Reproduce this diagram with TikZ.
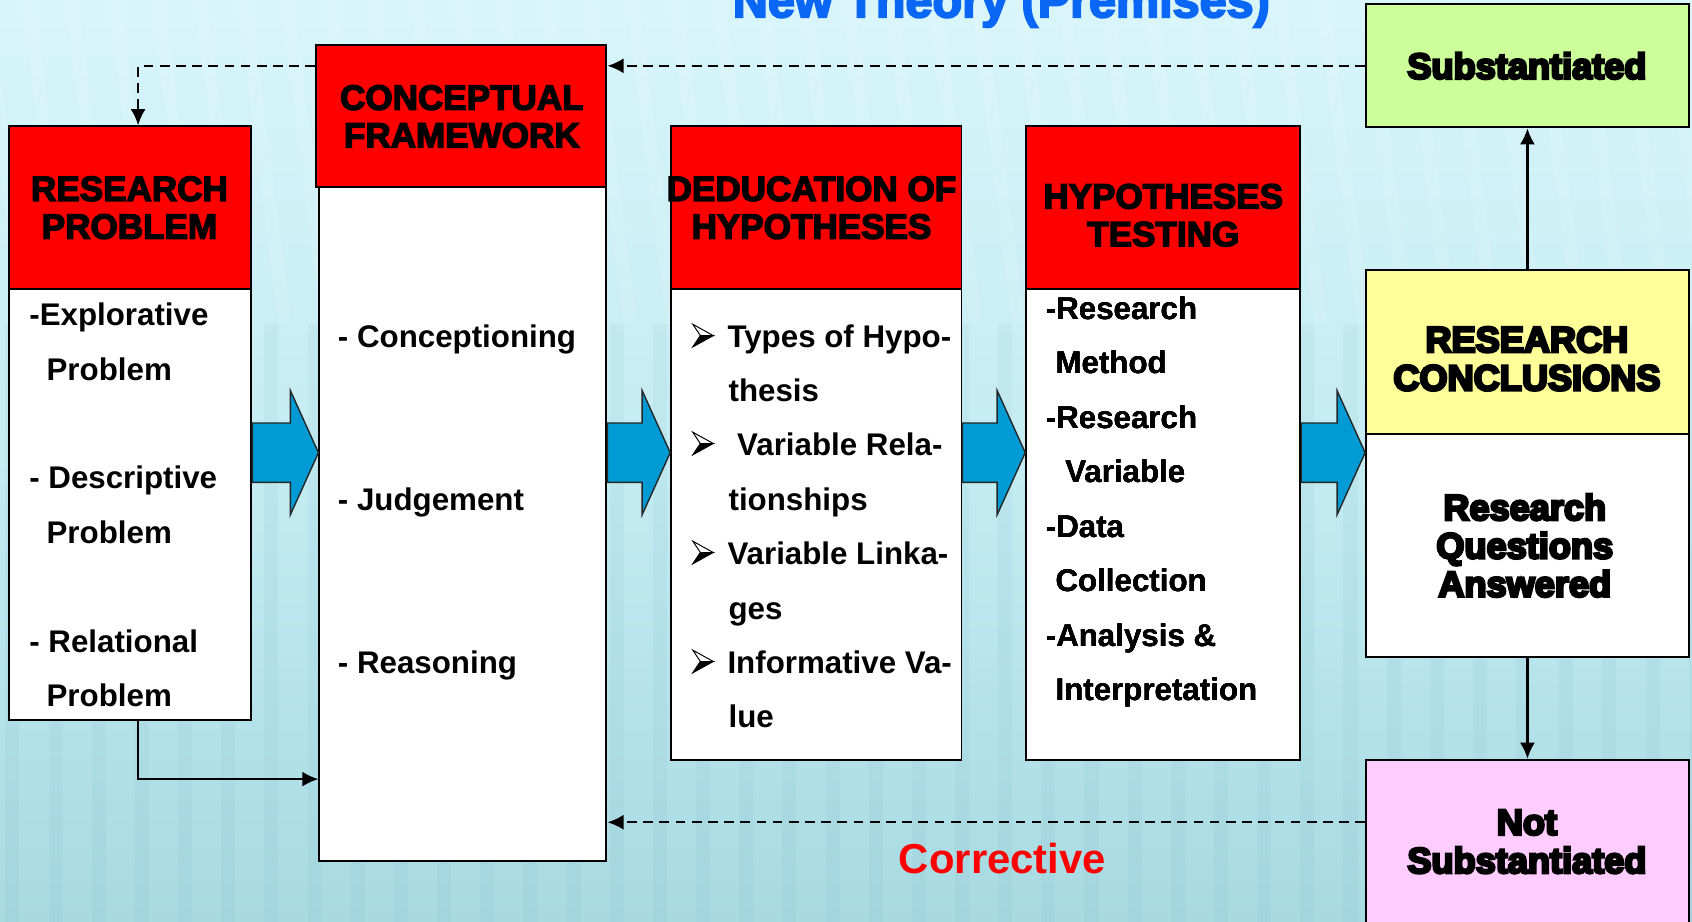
\documentclass[tikz,border=0pt]{standalone}
\usepackage{fontspec}
\setmainfont{Liberation Sans}
\newfontfamily\hvyA{Liberation Sans Bold}[FakeBold=4]
\newfontfamily\hvyB{Liberation Sans Bold}[FakeBold=7]
\usetikzlibrary{arrows.meta,fit,calc}
\definecolor{hred}{RGB}{255,0,0}
\definecolor{sgreen}{RGB}{204,255,153}
\definecolor{cyellow}{RGB}{255,255,153}
\definecolor{npink}{RGB}{255,204,255}
\definecolor{arrowblue}{RGB}{0,154,213}
\definecolor{titleblue}{RGB}{10,102,245}
\definecolor{bgtop}{RGB}{216,245,250}
\definecolor{bgmid}{RGB}{196,236,242}
\definecolor{bgbot}{RGB}{168,218,226}
\tikzset{
  box/.style={draw=black, line width=1.8pt, inner sep=0pt},
  hdr/.style={box, fill=hred},
  bodybox/.style={box, fill=white},
  htxt/.style={font=\hvyA\fontsize{32.5}{35}\selectfont, align=center, inner sep=0pt},
  ctxt/.style={font=\hvyB\fontsize{33.5}{35.5}\selectfont, align=center, inner sep=0pt},
  btxt/.style={font=\bfseries\fontsize{29}{35}\selectfont, anchor=base west, inner sep=0pt},
  dashline/.style={line width=2.1pt, dash pattern=on 9pt off 6pt, -{Latex[length=15pt,width=14pt]}},
  solidline/.style={line width=2.1pt, -{Latex[length=15pt,width=14pt]}},
  barrow/.style={fill=arrowblue, draw=black!85, line width=1.3pt, line join=miter},
  bulletline/.style={draw=black, line width=0.9pt, line join=miter},
}
\newcommand\myblockarrow[2]{%
  \path (#1.east |- 0,419.5) coordinate (ba-s) (#2.west |- 0,419.5) coordinate (ba-t);
  \draw[barrow] ([yshift=27.5pt]ba-s) -- ([xshift=-26pt,yshift=27.5pt]ba-t)
    -- ([xshift=-26pt,yshift=57.5pt]ba-t) -- (ba-t)
    -- ([xshift=-26pt,yshift=-57.5pt]ba-t) -- ([xshift=-26pt,yshift=-27.5pt]ba-t)
    -- ([yshift=-27.5pt]ba-s) -- cycle;}
\newcommand\mybullet[1]{%
  \filldraw[bulletline, fill=white] (642,#1-10.5) -- (661,#1) -- (649,#1) -- cycle;
  \filldraw[bulletline, fill=black] (649,#1) -- (661,#1) -- (642,#1+10.5) -- cycle;}
\begin{document}
\begin{tikzpicture}[x=1pt,y=-1pt]
\useasboundingbox (0,0) rectangle (1568,854);
\clip (0,0) rectangle (1568,854);
% background
\fill[top color=bgtop, bottom color=bgbot, middle color=bgmid] (0,0) rectangle (1568,854);
\foreach \i in {0,...,40} {
  \fill[white, opacity=0.10] (\i*40-60,0) -- (\i*40-48,0) -- (\i*40-10,300) -- (\i*40-22,300) -- cycle;
  \fill[black!40!cyan, opacity=0.05] (\i*40+5,300) rectangle (\i*40+18,854);
}
% boxes
\node[bodybox, fit={(8,268) (233,667)}] (rpb) {};
\node[hdr, fit={(8,117) (233,268)}] (rph) {};
\node[bodybox, fit={(296,173) (562,798)}] (cfb) {};
\node[hdr, fit={(293,42) (562,173)}] (cfh) {};
\node[bodybox, fit={(622,268) (891,704)}] (dhb) {};
\node[hdr, fit={(622,117) (891,268)}] (dhh) {};
\node[bodybox, fit={(951,268) (1205,704)}] (htb) {};
\node[hdr, fit={(951,117) (1205,268)}] (hth) {};
\node[box, fill=sgreen, fit={(1266,4) (1565,118)}] (sub) {};
\node[bodybox, fit={(1266,402) (1565,609)}] (rcb) {};
\node[box, fill=cyellow, fit={(1266,250) (1565,402)}] (rch) {};
\node[box, fill=npink, fit={(1266,704) (1565,862)}] (ns) {};
% block arrows
\myblockarrow{rpb}{cfb}
\myblockarrow{cfb}{dhb}
\myblockarrow{dhb}{htb}
\myblockarrow{htb}{rcb}
% connectors
\draw[dashline] (sub.west) -- (sub.west -| cfh.east);
\draw[dashline] (sub.west -| cfh.west) -| ([xshift=7.5pt]rph.north);
\coordinate (cfin) at (cfb.west |- 0,722);
\draw[solidline] ([xshift=7.5pt]rpb.south) |- (cfin);
\draw[solidline] (rch.north) -- (sub.south);
\draw[solidline] (rcb.south) -- (ns.north);
\draw[dashline] ([yshift=21pt]ns.west) -- ([yshift=21pt]ns.west -| cfb.east);
% title and labels
\node[anchor=base, inner sep=0pt, text=titleblue, font=\hvyA\fontsize{45}{50}\selectfont] (title) at (928,16) {New Theory (Premises)};
\node[inner sep=0pt, text=hred, font=\bfseries\fontsize{38.8}{42}\selectfont] (corr) at (929,796) {Corrective};
% heading texts
\node[htxt] (rpt) at (120,192.5) {RESEARCH\\PROBLEM};
\node[htxt] (cft) at (428,108) {CONCEPTUAL\\FRAMEWORK};
\node[htxt] (dht) at (752,192.5) {DEDUCATION OF\\HYPOTHESES};
\node[htxt] (htt) at (1078,199.5) {HYPOTHESES\\TESTING};
\node[ctxt] (subt) at (1415,61) {Substantiated};
\node[ctxt] (rct) at (1415,332.5) {RESEARCH\\CONCLUSIONS};
\node[ctxt] (rcbt) at (1413,505.5) {Research\\Questions\\Answered};
\node[ctxt] (nst) at (1415,780) {Not\\Substantiated};
% body texts
\foreach \n/\x/\y/\t in {1/27/302/{-Explorative}, 2/43/353/{Problem}, 3/27/453/{- Descriptive},
  4/43/504/{Problem}, 5/27/605/{- Relational}, 6/43/655/{Problem}}
  \node[btxt] (rpl\n) at (\x,\y) {\t};
\foreach \n/\x/\y/\t in {1/313/322/{- Conceptioning}, 2/313/473/{- Judgement}, 3/313/624/{- Reasoning}}
  \node[btxt] (cfl\n) at (\x,\y) {\t};
\foreach \n/\x/\y/\t in {1/674/322/{Types of Hypo-}, 2/675/372/{thesis}, 3/683/422/{Variable Rela-},
  4/675/473/{tionships}, 5/674/523/{Variable Linka-}, 6/675/574/{ges}, 7/674/624/{Informative Va-}, 8/675/674/{lue}}
  \node[btxt] (dhl\n) at (\x,\y) {\t};
\foreach \y in {311, 411, 512, 613}
  \mybullet{\y}
\foreach \n/\x/\y/\t in {1/969/296/{-Research}, 2/978/346/{Method}, 3/969/397/{-Research},
  4/987/447/{Variable}, 5/969/498/{-Data}, 6/978/548/{Collection}, 7/969/599/{-Analysis \&}, 8/978/649/{Interpretation}}
  \node[btxt] (htl\n) at (\x,\y) {\t};
\end{tikzpicture}
\end{document}
